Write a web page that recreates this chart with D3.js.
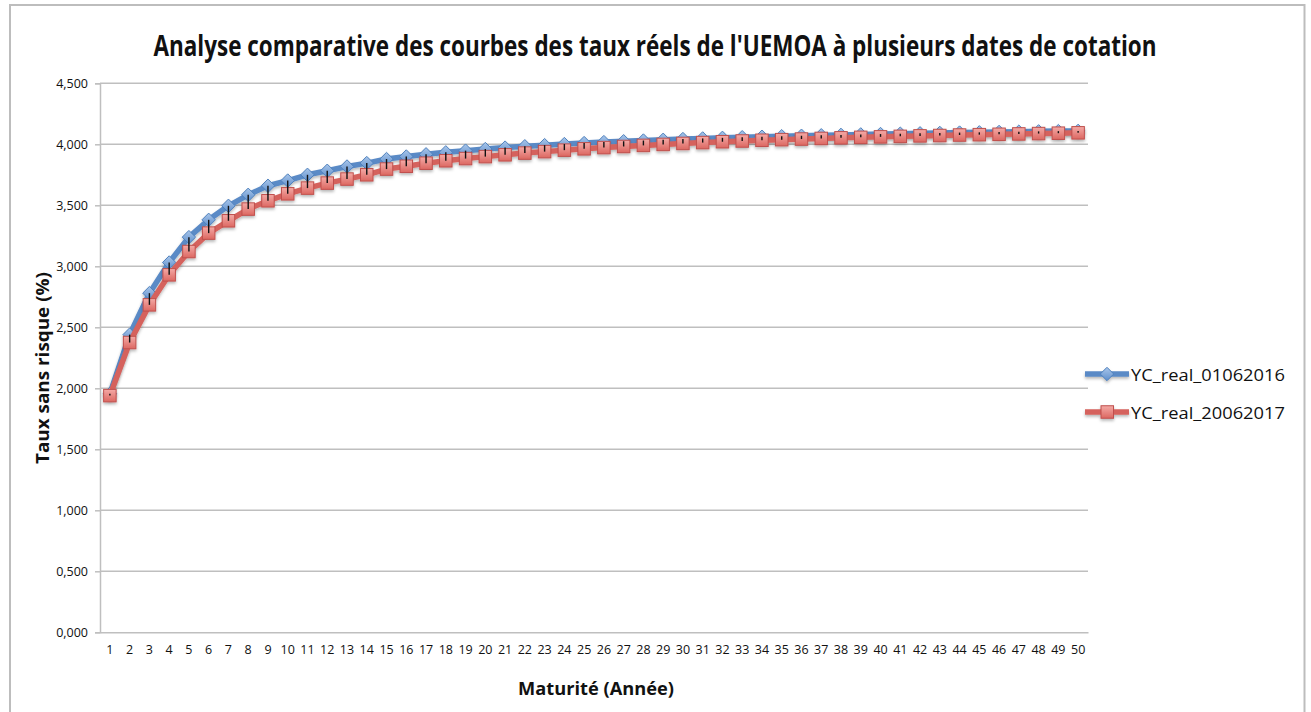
<!DOCTYPE html>
<html>
<head>
<meta charset="utf-8">
<script src="https://cdn.jsdelivr.net/npm/d3@7"></script>
<style>
  html, body { margin: 0; padding: 0; background: #ffffff; }
  svg { display: block; }
</style>
</head>
<body>
<svg id="chart" width="1311" height="712"></svg>
<script>
// Maturities (years) on the category axis
const maturities = d3.range(1, 51);

// Real yield curve quoted on 01/06/2016 (%)
const yc2016 = [
  1.955, 2.440, 2.780, 3.031, 3.239, 3.381, 3.496, 3.586, 3.660, 3.703,
  3.750, 3.783, 3.818, 3.846, 3.879, 3.900, 3.918, 3.934, 3.948, 3.961,
  3.973, 3.984, 3.993, 4.002, 4.010, 4.018, 4.025, 4.031, 4.037, 4.043,
  4.048, 4.053, 4.058, 4.062, 4.066, 4.070, 4.074, 4.077, 4.081, 4.084,
  4.087, 4.090, 4.093, 4.096, 4.098, 4.101, 4.103, 4.106, 4.108, 4.110
];

// Real yield curve quoted on 20/06/2017 (%)
const yc2017 = [
  1.940, 2.375, 2.684, 2.930, 3.121, 3.272, 3.373, 3.469, 3.537, 3.594,
  3.641, 3.682, 3.715, 3.750, 3.797, 3.820, 3.845, 3.865, 3.883, 3.899,
  3.914, 3.928, 3.940, 3.952, 3.963, 3.973, 3.982, 3.991, 3.999, 4.007,
  4.014, 4.021, 4.027, 4.033, 4.038, 4.043, 4.048, 4.053, 4.057, 4.061,
  4.065, 4.069, 4.072, 4.076, 4.079, 4.082, 4.085, 4.088, 4.091, 4.094
];

const seriesNames = ["YC_real_01062016", "YC_real_20062017"];
const yTicks = [0, 0.5, 1, 1.5, 2, 2.5, 3, 3.5, 4, 4.5];

const titleText = "Analyse comparative des courbes des taux réels de l'UEMOA à plusieurs dates de cotation";
const yTitle = "Taux sans risque (%)";
const xTitle = "Maturité (Année)";

const svg = d3.select("#chart");
const plot = { left: 100, right: 1088, top: 83.3, bottom: 632.3 };

const defs = svg.append("defs");

// soft shadow under lines and markers
const shadow = defs.append("filter").attr("id", "shadow")
  .attr("x", "-20%").attr("y", "-20%").attr("width", "140%").attr("height", "160%");
shadow.append("feDropShadow")
  .attr("dx", 0).attr("dy", 2).attr("stdDeviation", 1.4)
  .attr("flood-color", "#000").attr("flood-opacity", 0.28);

const gBlue = defs.append("linearGradient").attr("id", "gradBlue")
  .attr("x1", 0).attr("y1", 0).attr("x2", 0).attr("y2", 1);
gBlue.append("stop").attr("offset", "0%").attr("stop-color", "#a9c6ea");
gBlue.append("stop").attr("offset", "100%").attr("stop-color", "#5f8fcc");

const gRed = defs.append("linearGradient").attr("id", "gradRed")
  .attr("x1", 0).attr("y1", 0).attr("x2", 0).attr("y2", 1);
gRed.append("stop").attr("offset", "0%").attr("stop-color", "#f4aaa6");
gRed.append("stop").attr("offset", "100%").attr("stop-color", "#dc6761");

// outer frame
svg.append("rect")
  .attr("x", 10).attr("y", 5).attr("width", 1294.5).attr("height", 720)
  .attr("fill", "#fff").attr("stroke", "#bdbdbd").attr("stroke-width", 2);

const x = d3.scaleBand().domain(maturities).range([plot.left, plot.right]);
const y = d3.scaleLinear().domain([0, 4.5]).range([plot.bottom, plot.top]);
const cx = d => x(d) + x.bandwidth() / 2;

// horizontal gridlines
svg.append("g").selectAll("line").data(yTicks.filter(t => t > 0)).join("line")
  .attr("x1", plot.left).attr("x2", plot.right)
  .attr("y1", d => y(d)).attr("y2", d => y(d))
  .attr("stroke", "#bfbfbf").attr("stroke-width", 1.5);

// y axis
const yAxis = d3.axisLeft(y).tickValues(yTicks).tickSize(5).tickPadding(7)
  .tickFormat(d => d3.format(".3f")(d).replace(".", ","));
const ya = svg.append("g").attr("transform", `translate(${plot.left},0)`).call(yAxis);
ya.select(".domain").attr("stroke", "#bfbfbf").attr("stroke-width", 1.5);
ya.selectAll(".tick line").attr("stroke", "#bfbfbf").attr("stroke-width", 1.5);
ya.selectAll(".tick text").attr("fill", "#111").attr("font-family", "'Open Sans', sans-serif").attr("font-size", 12.5);

// x axis
const xAxis = d3.axisBottom(x).tickSize(0).tickPadding(13);
const xa = svg.append("g").attr("transform", `translate(0,${plot.bottom})`).call(xAxis);
xa.select(".domain").attr("stroke", "#bfbfbf").attr("stroke-width", 1.5);
xa.selectAll(".tick text").attr("fill", "#111").attr("font-family", "'Open Sans', sans-serif").attr("font-size", 12.5);

const line = d3.line().x((d, i) => cx(maturities[i])).y(d => y(d));

function drawSeries(values, color, markerType) {
  const g = svg.append("g").attr("filter", "url(#shadow)");
  g.append("path").datum(values).attr("d", line)
    .attr("fill", "none").attr("stroke", color).attr("stroke-width", 5.5)
    .attr("stroke-linejoin", "round");
  if (markerType === "diamond") {
    g.selectAll("path.m").data(values).join("path").attr("class", "m")
      .attr("d", d3.symbol(d3.symbolDiamond2, 115)())
      .attr("transform", (d, i) => `translate(${cx(maturities[i])},${y(d)})`)
      .attr("fill", "url(#gradBlue)").attr("stroke", "#4f81bd").attr("stroke-width", 1);
  } else {
    const s = 12.5;
    g.selectAll("rect.m").data(values).join("rect").attr("class", "m")
      .attr("x", (d, i) => cx(maturities[i]) - s / 2).attr("y", d => y(d) - s / 2)
      .attr("width", s).attr("height", s)
      .attr("fill", "url(#gradRed)").attr("stroke", "#c0504d").attr("stroke-width", 1);
  }
}

drawSeries(yc2016, "#5a8ac6", "diamond");
drawSeries(yc2017, "#d5625d", "square");

// high-low lines between the two curves
svg.append("g").selectAll("line").data(maturities).join("line")
  .attr("x1", d => cx(d)).attr("x2", d => cx(d))
  .attr("y1", (d, i) => y(yc2016[i])).attr("y2", (d, i) => y(yc2017[i]))
  .attr("stroke", "#111").attr("stroke-width", 1.4);

// Condensed text: draw at natural width, then squeeze horizontally to the wanted width
function condensedText(parent, str, cxPos, baseY, size, weight, width, rotate) {
  const g = parent.append("g");
  const t = g.append("text")
    .attr("font-family", "'Open Sans', sans-serif").attr("font-weight", weight)
    .attr("font-size", size).attr("fill", "#111").attr("text-anchor", "middle")
    .text(str);
  const natural = t.node().getComputedTextLength();
  const k = width / natural;
  const rot = rotate ? " rotate(-90)" : "";
  g.attr("transform", `translate(${cxPos},${baseY})${rot} scale(${k},1)`);
  return g;
}

// title
condensedText(svg, titleText, 655, 56, 28, "bold", 1004, false);

// axis titles
condensedText(svg, yTitle, 49, 368, 18, "bold", 192, true);
condensedText(svg, xTitle, 596, 695, 18, "bold", 156, false);

// legend
const legend = [
  { name: seriesNames[0], color: "#5a8ac6", type: "diamond", yPos: 374 },
  { name: seriesNames[1], color: "#d5625d", type: "square", yPos: 412 }
];
legend.forEach(l => {
  const g = svg.append("g");
  const gs = g.append("g").attr("filter", "url(#shadow)");
  gs.append("line").attr("x1", 1085).attr("x2", 1129)
    .attr("y1", l.yPos).attr("y2", l.yPos)
    .attr("stroke", l.color).attr("stroke-width", 5.5);
  if (l.type === "diamond") {
    gs.append("path").attr("d", d3.symbol(d3.symbolDiamond2, 115)())
      .attr("transform", `translate(1107,${l.yPos})`)
      .attr("fill", "url(#gradBlue)").attr("stroke", "#4f81bd");
  } else {
    gs.append("rect").attr("x", 1101).attr("y", l.yPos - 6.25).attr("width", 12.5).attr("height", 12.5)
      .attr("fill", "url(#gradRed)").attr("stroke", "#c0504d");
  }
  condensedText(g, l.name, 1131 + 77, l.yPos + 6.5, 17, "normal", 154, false);
});
</script>
</body>
</html>
